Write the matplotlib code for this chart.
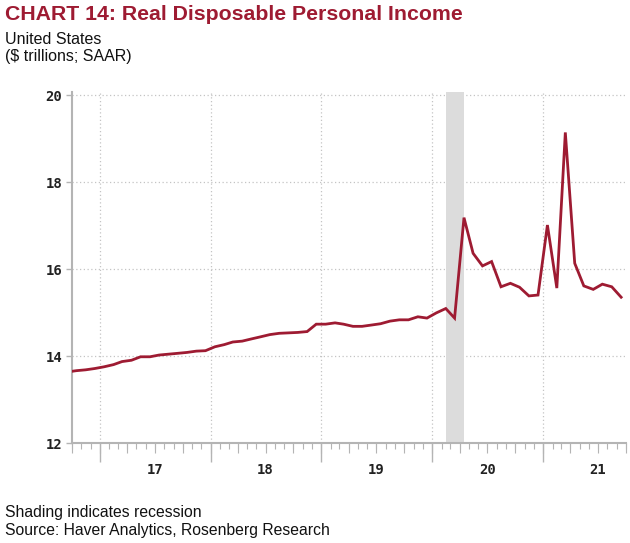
import datetime as dt
import matplotlib
matplotlib.use("Agg")
import matplotlib.pyplot as plt
import matplotlib.dates as mdates
import numpy as np

# monthly real disposable personal income, $ trillions SAAR, Sep 2016 .. Sep 2021
start_year, start_month = 2016, 9
income = [
    13.64,                                                  # Sep 16
    13.67, 13.69, 13.72,                                    # Oct-Dec 16
    13.76, 13.81, 13.88, 13.91, 13.99, 13.99,               # 2017
    14.03, 14.05, 14.07, 14.09, 14.12, 14.13,
    14.22, 14.27, 14.33, 14.35, 14.40, 14.45,               # 2018
    14.50, 14.53, 14.54, 14.55, 14.57, 14.74,
    14.74, 14.77, 14.74, 14.69, 14.69, 14.72,               # 2019
    14.75, 14.81, 14.84, 14.84, 14.91, 14.88,
    15.00, 15.10, 14.88, 17.19, 16.37, 16.08,               # 2020
    16.18, 15.60, 15.68, 15.59, 15.39, 15.41,
    17.02, 15.57, 19.15, 16.14, 15.62, 15.54,               # 2021
    15.66, 15.60, 15.36,
]
year_labels = ["17", "18", "19", "20", "21"]
label_years = [2017, 2018, 2019, 2020, 2021]
recession = (dt.date(2020, 2, 15), dt.date(2020, 4, 15))

dates = []
y, m = start_year, start_month
for _ in income:
    dates.append(dt.date(y, m, 15))
    m += 1
    if m > 12:
        m = 1
        y += 1
x = mdates.date2num(dates)

red = "#9E1B32"
grey = "#B4B4B4"
tickfont = dict(family="DejaVu Sans Mono", size=10, weight="bold")
x0 = mdates.date2num(dt.date(2016, 10, 1))
x1 = mdates.date2num(dt.date(2021, 10, 1))

fig = plt.figure(figsize=(6.3, 5.43), dpi=100)
ax = fig.add_axes([72 / 630, 1 - 443.3 / 543, (626 - 72) / 630, (443.3 - 92) / 543])

ax.axvspan(mdates.date2num(recession[0]), mdates.date2num(recession[1]),
           color="#DCDCDC", lw=0, zorder=1)
ax.plot(x, income, color=red, lw=2.0, zorder=3, solid_joinstyle="miter")

ax.set_yticks([12, 14, 16, 18, 20])

year_starts = mdates.date2num([dt.date(yy, 1, 1) for yy in range(2017, 2022)])
months = [v for v in mdates.date2num([dt.date(yy, mm, 1) for yy in range(2016, 2022)
                                       for mm in range(1, 13)]) if x0 <= v <= x1]
quarters = [v for v in mdates.date2num([dt.date(yy, mm, 1) for yy in range(2016, 2022)
                                         for mm in (1, 4, 7, 10)]) if x0 <= v <= x1]
mids = mdates.date2num([dt.date(yy, 7, 1) for yy in label_years])

ax.set_xticks(year_starts)
ax.set_xticklabels([])
ax.set_xticks(months, minor=True)
ax.tick_params(axis="x", which="major", length=14, width=1, color=grey, direction="out")
ax.tick_params(axis="x", which="minor", length=4, width=0.8, color=grey)
ax.tick_params(axis="y", length=4, width=1, color=grey, pad=3, labelcolor="#222222")
for lab in ax.get_yticklabels():
    lab.set_fontproperties(tickfont)

# quarter ticks
secq = ax.secondary_xaxis("bottom")
secq.set_xticks(quarters)
secq.set_xticklabels([])
secq.tick_params(length=7, width=0.8, color=grey)
secq.spines["bottom"].set_visible(False)

# year labels at mid-year
secl = ax.secondary_xaxis("bottom")
secl.set_xticks(mids)
secl.set_xticklabels(year_labels, fontproperties=tickfont, color="#222222")
secl.tick_params(length=0, pad=14.5)
secl.spines["bottom"].set_visible(False)

ax.set_xlim(x0, x1)
ax.set_ylim(12, 20.08)

ax.grid(True, which="major", color="#C4C4C4", linestyle=(0, (1, 2)), lw=0.9)
for s in ("top", "right"):
    ax.spines[s].set_visible(False)
for s in ("left", "bottom"):
    ax.spines[s].set_color(grey)
    ax.spines[s].set_linewidth(1.5)
ax.set_axisbelow(True)

fig.text(5 / 630, 1 - 14 / 543, "CHART 14: Real Disposable Personal Income",
         color=red, fontsize=15.3, fontweight="bold", family="Liberation Sans", va="center")
fig.text(5 / 630, 1 - 39 / 543, "United States", fontsize=11.5,
         family="Liberation Sans", va="center", color="#111111")
fig.text(5 / 630, 1 - 57 / 543, "($ trillions; SAAR)", fontsize=11.5,
         family="Liberation Sans", va="center", color="#111111")
fig.text(5 / 630, 1 - 512 / 543, "Shading indicates recession", fontsize=11.3,
         family="Liberation Sans", va="center", color="#111111")
fig.text(5 / 630, 1 - 530 / 543, "Source: Haver Analytics, Rosenberg Research", fontsize=11.3,
         family="Liberation Sans", va="center", color="#111111")

fig.savefig("out.png", dpi=100)
